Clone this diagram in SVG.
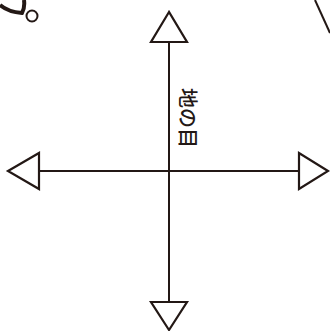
<svg xmlns="http://www.w3.org/2000/svg" width="330" height="331" viewBox="0 0 330 331">
<style>
.ln{stroke:#231815;stroke-width:2;fill:none}
.tri{stroke:#231815;stroke-width:2.2;fill:#fff;stroke-linejoin:miter}
.lbl{font-family:"Noto Sans CJK JP","Noto Sans CJK SC",sans-serif;font-size:20px;font-weight:500;fill:#231815}
</style>
<rect width="330" height="331" fill="#fff"/>
<g id="decor">
<path d="M0,5 Q8,12 22,13 Q25,8 24,0" stroke="#231815" stroke-width="4" fill="none"/>
<circle cx="32" cy="16" r="5.5" stroke="#231815" stroke-width="2" fill="#fff"/>
<line x1="315" y1="0" x2="330" y2="33" stroke="#231815" stroke-width="2"/>
</g>
<g id="connectors">
<line class="ln" x1="169" y1="42" x2="169" y2="302"/>
<line class="ln" x1="39" y1="171" x2="299" y2="171"/>
</g>
<g id="arrow-up"><polygon class="tri" points="169,12 151,42 187,42"/></g>
<g id="arrow-down"><polygon class="tri" points="169,330 151,302 187,302"/></g>
<g id="arrow-left"><polygon class="tri" points="8,171 39,153 39,189"/></g>
<g id="arrow-right"><polygon class="tri" points="328,171 299,153 299,189"/></g>
<g id="label">
<text class="lbl" x="188" y="118" text-anchor="middle" dominant-baseline="central" transform="rotate(90 188 118)">地の目</text>
</g>
</svg>
